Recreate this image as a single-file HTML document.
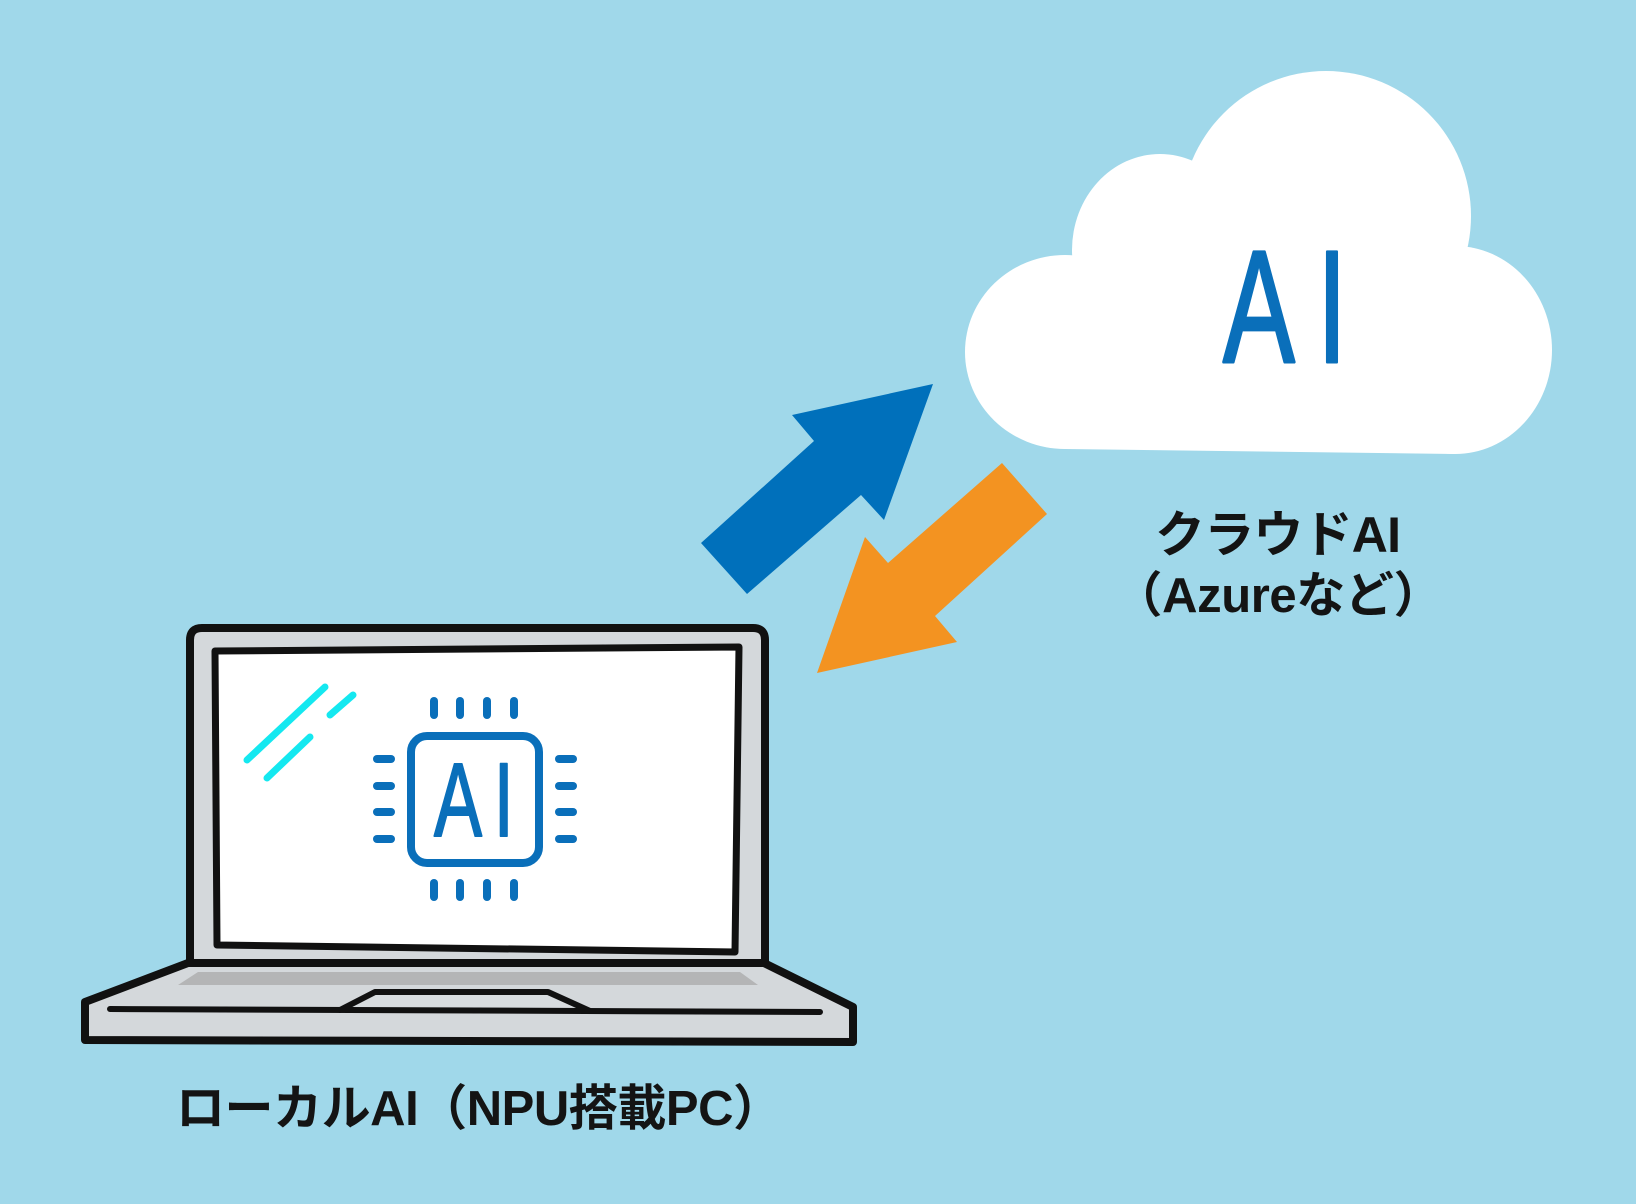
<!DOCTYPE html>
<html>
<head>
<meta charset="utf-8">
<style>
  html, body { margin: 0; padding: 0; background: #a0d8ea; }
  svg { display: block; }
  .lbl { font-family: "Liberation Sans", "Noto Sans CJK JP", sans-serif; font-weight: bold; fill: #141414; }
  .ai { font-family: "Liberation Sans", "Noto Sans CJK JP", sans-serif; fill: #0a6fba; }
</style>
</head>
<body>
<svg width="1636" height="1204" viewBox="0 0 1636 1204" xmlns="http://www.w3.org/2000/svg">
  <rect x="0" y="0" width="1636" height="1204" fill="#a0d8ea"/>

  <!-- Cloud -->
  <g fill="#ffffff">
    <ellipse cx="1065" cy="352" rx="100" ry="97"/>
    <ellipse cx="1160" cy="250" rx="88" ry="96"/>
    <circle cx="1326" cy="216" r="145"/>
    <ellipse cx="1455" cy="350" rx="97" ry="104"/>
    <polygon points="1065,290 1455,290 1455,454 1065,449"/>
    <polygon points="1100,260 1420,260 1420,300 1100,300"/>
  </g>
  <text class="ai" transform="translate(1223,362) scale(0.673,1)" font-size="160" stroke="#0a6fba" stroke-width="3" stroke-linejoin="round" stroke-linecap="round">A<tspan dx="33">I</tspan></text>

  <!-- Blue arrow (up-right) -->
  <polygon fill="#0070bb" points="933,384 884,520 861,495 747,594 701,543 814,441 792,415"/>
  <!-- Orange arrow (down-left) -->
  <polygon fill="#f39321" points="1002,463 1047,514 935,616 957,642 817,673 865,537 888,563"/>

  <!-- Cloud labels -->
  <text class="lbl" x="1278" y="552" font-size="50" text-anchor="middle" textLength="246" lengthAdjust="spacing">クラウドAI</text>
  <text class="lbl" x="1278" y="612" font-size="49" text-anchor="middle" textLength="329" lengthAdjust="spacing">（Azureなど）</text>

  <!-- Laptop lid -->
  <path d="M190,963 V640 Q190,628 202,628 H753 Q765,628 765,640 V963 Z" fill="#d4d8db" stroke="#111" stroke-width="8" stroke-linejoin="round"/>
  <!-- Screen -->
  <polygon points="215,651 739,647 735,952 217,945" fill="#ffffff" stroke="#111" stroke-width="7" stroke-linejoin="round"/>

  <!-- Base -->
  <polygon points="188,963 764,963 853,1007 853,1042 85,1040 85,1002" fill="#d4d8db" stroke="#111" stroke-width="8" stroke-linejoin="round"/>
  <!-- Keyboard shadow strip -->
  <polygon points="178,985 198,972 740,972 758,985" fill="#b4b5b6"/>
  <!-- Trackpad -->
  <polyline points="340,1010 375,992 548,992 590,1011" fill="#d8dcdf" stroke="#111" stroke-width="6" stroke-linejoin="round" stroke-linecap="round"/>
  <!-- Front edge line -->
  <line x1="110" y1="1009" x2="820" y2="1012" stroke="#111" stroke-width="6" stroke-linecap="round"/>

  <!-- Reflection lines -->
  <g stroke="#14e8f0" stroke-width="7" stroke-linecap="round">
    <line x1="247" y1="760" x2="325" y2="687"/>
    <line x1="267" y1="778" x2="310" y2="737"/>
    <line x1="330" y1="715" x2="353" y2="695"/>
  </g>

  <!-- Chip -->
  <g stroke="#0a6fba" stroke-width="8" stroke-linecap="round" fill="none">
    <rect x="411" y="736" width="128" height="127" rx="16"/>
    <line x1="434" y1="701" x2="434" y2="715"/>
    <line x1="460" y1="701" x2="460" y2="715"/>
    <line x1="487" y1="701" x2="487" y2="715"/>
    <line x1="514" y1="701" x2="514" y2="715"/>
    <line x1="434" y1="883" x2="434" y2="897"/>
    <line x1="460" y1="883" x2="460" y2="897"/>
    <line x1="487" y1="883" x2="487" y2="897"/>
    <line x1="514" y1="883" x2="514" y2="897"/>
    <line x1="377" y1="759" x2="391" y2="759"/>
    <line x1="377" y1="786" x2="391" y2="786"/>
    <line x1="377" y1="812" x2="391" y2="812"/>
    <line x1="377" y1="839" x2="391" y2="839"/>
    <line x1="559" y1="759" x2="573" y2="759"/>
    <line x1="559" y1="786" x2="573" y2="786"/>
    <line x1="559" y1="812" x2="573" y2="812"/>
    <line x1="559" y1="839" x2="573" y2="839"/>
  </g>
  <text class="ai" transform="translate(434,836) scale(0.686,1)" font-size="105" stroke="#0a6fba" stroke-width="2" stroke-linejoin="round" stroke-linecap="round">A<tspan dx="17">I</tspan></text>

  <!-- Laptop label -->
  <text class="lbl" x="176" y="1125" font-size="49" textLength="606" lengthAdjust="spacing">ローカルAI（NPU搭載PC）</text>
</svg>
</body>
</html>
